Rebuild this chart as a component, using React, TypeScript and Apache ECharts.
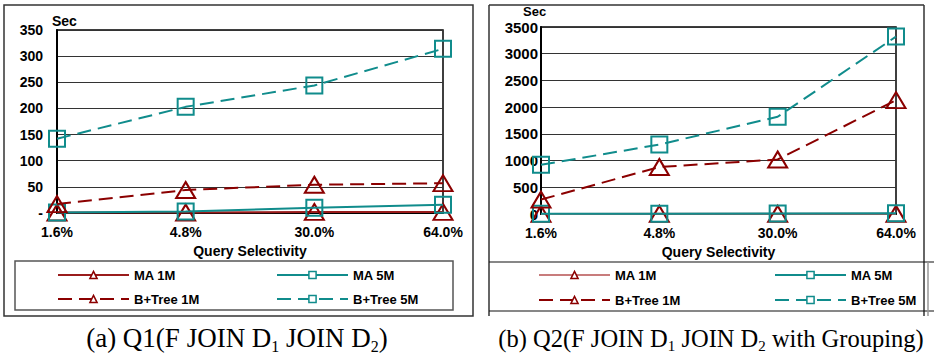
import React, { useEffect, useRef } from 'react';
import * as echarts from 'echarts';

const categories = ['1.6%', '4.8%', '30.0%', '64.0%'];
const seriesNames = ['MA 1M', 'MA 5M', 'B+Tree 1M', 'B+Tree 5M'];

const q1MA1M = [1, 1, 2, 2];
const q1MA5M = [1, 3, 10, 16];
const q1BTree1M = [17, 44, 54, 57];
const q1BTree5M = [142, 203, 244, 314];

const q2MA1M = [2, 3, 4, 5];
const q2MA5M = [4, 6, 9, 12];
const q2BTree1M = [270, 880, 1020, 2130];
const q2BTree5M = [920, 1300, 1820, 3320];

const q1Axis = { min: 0, max: 350, interval: 50 };
const q2Axis = { min: 0, max: 3500, interval: 500 };

const axisTitleY = 'Sec';
const axisTitleX = 'Query Selectivity';
const captionA = '(a) Q1(F JOIN D{s|1} JOIN D{s|2})';
const captionB = '(b) Q2(F JOIN D{s|1} JOIN D{s|2} with Grouping)';

const RED = '#8b0000';
const TEAL = '#108c8c';
const FONT = 'Liberation Sans, Arial, sans-serif';
const SERIF = 'Liberation Serif, Times New Roman, serif';

function makeSeries(idx: number, suffix: string, data: number[][], lightMA1: boolean) {
  const colors = [RED, TEAL, RED, TEAL];
  const lineColors = [lightMA1 ? '#c87c7c' : '#9a1c1c', TEAL, RED, TEAL];
  return seriesNames.map((n, i) => ({
    type: 'line',
    name: n + suffix,
    xAxisIndex: idx,
    yAxisIndex: idx,
    data: data[i],
    symbol: i % 2 === 0 ? 'triangle' : 'rect',
    symbolSize: i % 2 === 0 ? [19, 16] : [16, 16],
    showAllSymbol: true,
    color: colors[i],
    lineStyle: {
      color: lineColors[i],
      width: 2,
      type: i >= 2 ? [14, 7] : 'solid',
    },
    itemStyle: { color: 'transparent', borderColor: colors[i], borderWidth: 2 },
    emphasis: { disabled: true },
    z: 3 + i,
  }));
}

function legendItem(name: string, left: number, top: number) {
  return {
    data: [name],
    left,
    top,
    padding: 0,
    itemWidth: 71,
    itemHeight: 9,
    selectedMode: false,
    formatter: (n: string) => n.replace('#b', ''),
    itemStyle: { color: '#fff', borderWidth: 1.5 },
    textStyle: { fontFamily: FONT, fontWeight: 'bold', fontSize: 13, color: '#000' },
  };
}

export default function App() {
  const ref = useRef<HTMLDivElement>(null);
  useEffect(() => {
    if (!ref.current) return;
    const chart = echarts.init(ref.current, null, { renderer: 'svg' });
    const labelStyle = { fontFamily: FONT, fontWeight: 'bold', fontSize: 14, color: '#000' };
    const xAxisBase = (gi: number) => ({
      type: 'category',
      gridIndex: gi,
      data: categories,
      boundaryGap: false,
      axisLine: { lineStyle: { color: '#000', width: 2 } },
      axisTick: { show: false },
      axisLabel: { ...labelStyle, margin: 12 },
      name: axisTitleX,
      nameLocation: 'middle',
      nameGap: 27,
      nameTextStyle: { ...labelStyle },
    });
    const option: any = {
      animation: false,
      backgroundColor: '#fff',
      grid: [
        { left: 57, top: 30, width: 386, height: 183, show: true, borderColor: '#000', borderWidth: 1.5, backgroundColor: 'transparent' },
        { left: 541, top: 27, width: 355, height: 187, show: true, borderColor: '#000', borderWidth: 1.5, backgroundColor: 'transparent' },
      ],
      xAxis: [xAxisBase(0), xAxisBase(1)],
      yAxis: [
        {
          type: 'value', gridIndex: 0, ...q1Axis,
          axisLine: { show: true, lineStyle: { color: '#000', width: 2 } },
          axisTick: { show: false },
          axisLabel: { ...labelStyle, margin: 14, formatter: (v: number) => (v === 0 ? '-' : String(v)) },
          splitLine: { lineStyle: { color: '#333', width: 1 } },
        },
        {
          type: 'value', gridIndex: 1, ...q2Axis,
          axisLine: { show: true, lineStyle: { color: '#000', width: 2 } },
          axisTick: { show: false },
          axisLabel: { ...labelStyle, fontSize: 15, margin: 3, formatter: (v: number) => String(v) },
          splitLine: { lineStyle: { color: '#333', width: 1 } },
        },
      ],
      legend: [
        legendItem('MA 1M', 57, 268.5),
        legendItem('MA 5M', 276, 268.5),
        legendItem('B+Tree 1M', 57, 292.5),
        legendItem('B+Tree 5M', 276, 292.5),
        legendItem('MA 1M#b', 538, 268.5),
        legendItem('MA 5M#b', 774, 268.5),
        legendItem('B+Tree 1M#b', 538, 293.5),
        legendItem('B+Tree 5M#b', 774, 293.5),
      ],
      series: [
        ...makeSeries(0, '', [q1MA1M, q1MA5M, q1BTree1M, q1BTree5M], false),
        ...makeSeries(1, '#b', [q2MA1M, q2MA5M, q2BTree1M, q2BTree5M], true),
      ],
      graphic: [
        { type: 'rect', shape: { x: 4, y: 5, width: 469, height: 311 }, style: { fill: 'none', stroke: '#333', lineWidth: 1.5 }, silent: true },
        { type: 'rect', shape: { x: 15, y: 261, width: 438, height: 49 }, style: { fill: 'none', stroke: '#555', lineWidth: 1.5 }, silent: true },
        { type: 'line', shape: { x1: 489, y1: 5, x2: 924, y2: 5 }, style: { stroke: '#333', lineWidth: 1.5 }, silent: true },
        { type: 'line', shape: { x1: 489, y1: 5, x2: 489, y2: 316 }, style: { stroke: '#333', lineWidth: 1.5 }, silent: true },
        { type: 'line', shape: { x1: 924, y1: 5, x2: 924, y2: 316 }, style: { stroke: '#333', lineWidth: 1.5 }, silent: true },
        { type: 'line', shape: { x1: 489, y1: 262, x2: 934, y2: 262 }, style: { stroke: '#111', lineWidth: 1.2 }, silent: true },
        { type: 'line', shape: { x1: 489, y1: 311, x2: 934, y2: 311 }, style: { stroke: '#111', lineWidth: 1.2 }, silent: true },
        { type: 'line', shape: { x1: 928, y1: 262, x2: 928, y2: 316 }, style: { stroke: '#999', lineWidth: 1.5 }, silent: true },
        { type: 'text', x: 52, y: 21, style: { text: axisTitleY, font: `bold 14px ${FONT}`, fill: '#000', verticalAlign: 'middle' }, silent: true },
        { type: 'text', x: 523, y: 11, style: { text: axisTitleY, font: `bold 13px ${FONT}`, fill: '#000', verticalAlign: 'middle' }, silent: true },
        {
          type: 'text', x: 237, y: 338,
          style: {
            text: captionA, fontFamily: SERIF, fontSize: 27, fill: '#000', align: 'center', verticalAlign: 'middle', lineHeight: 32,
            rich: { s: { fontFamily: SERIF, fontSize: 16, lineHeight: 16, verticalAlign: 'bottom' } },
          },
          silent: true,
        },
        {
          type: 'text', x: 711, y: 338,
          style: {
            text: captionB, fontFamily: SERIF, fontSize: 24.5, fill: '#000', align: 'center', verticalAlign: 'middle', lineHeight: 30,
            rich: { s: { fontFamily: SERIF, fontSize: 15, lineHeight: 15, verticalAlign: 'bottom' } },
          },
          silent: true,
        },
      ],
    };
    chart.setOption(option);
    return () => chart.dispose();
  }, []);
  return <div ref={ref} style={{ position: 'absolute', left: 0, top: 0, width: 934, height: 355 }} />;
}
